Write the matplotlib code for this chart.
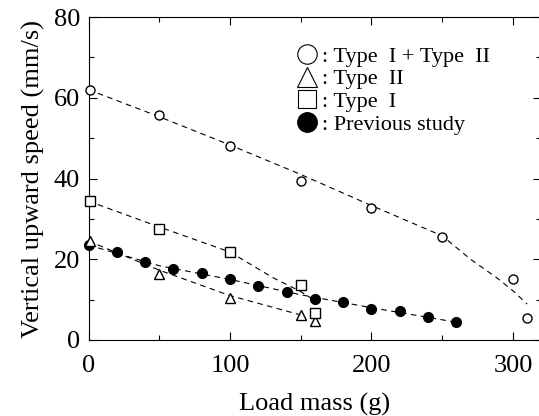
import matplotlib
matplotlib.use("Agg")
import matplotlib.pyplot as plt
from matplotlib.lines import Line2D
from matplotlib.ticker import MultipleLocator

plt.rcParams['font.family'] = ['Liberation Serif', 'DejaVu Serif']

# 测量数据 (load mass g, speed mm/s)
both_x = [1, 50, 100, 150, 200, 250, 300, 310]
both_y = [61.8, 55.7, 48.1, 39.4, 32.8, 25.4, 15.1, 5.4]
both_fit_x = [0, 50, 100, 150, 200, 250, 270, 289, 300, 310]
both_fit_y = [62.0, 55.3, 48.3, 41.0, 33.3, 25.8, 20.0, 15.3, 12.2, 8.9]

type2_x = [1, 50, 100, 150, 160]
type2_y = [24.6, 16.3, 10.5, 6.2, 4.7]
type2_fit_x = [0, 50, 100, 150]
type2_fit_y = [24.5, 17.3, 11.0, 6.2]

type1_x = [1, 50, 100, 150, 160]
type1_y = [34.5, 27.4, 21.7, 13.6, 6.6]
type1_fit_x = [0, 50, 100, 130, 150, 160]
type1_fit_y = [34.4, 28.0, 21.8, 15.5, 12.0, 9.8]

prev_x = [0, 20, 40, 60, 80, 100, 120, 140, 160, 180, 200, 220, 240, 260]
prev_y = [23.5, 21.9, 19.2, 17.5, 16.7, 15.0, 13.4, 12.0, 10.1, 9.3, 7.8, 7.2, 5.6, 4.4]
prev_fit_x = [0, 50, 100, 150, 200, 260]
prev_fit_y = [23.5, 18.4, 15.0, 11.2, 8.0, 4.4]

legend_labels = [': Type  I + Type  II', ': Type  II', ': Type  I', ': Previous study']

fig = plt.figure(figsize=(5.39, 4.16), dpi=100)
ax = fig.add_axes([0.1642, 0.1827, 0.840, 0.7764])

dash = (0, (5, 4))
for fx, fy in [(both_fit_x, both_fit_y), (type2_fit_x, type2_fit_y),
               (type1_fit_x, type1_fit_y), (prev_fit_x, prev_fit_y)]:
    ax.plot(fx, fy, color='black', lw=0.8, linestyle=dash, zorder=2)

ax.plot(prev_x, prev_y, 'o', ms=7, mfc='black', mec='black', zorder=3, clip_on=False)
ax.plot(both_x, both_y, 'o', ms=6.5, mfc='white', mec='black', mew=1.0, zorder=4, clip_on=False)
ax.plot(type2_x, type2_y, '^', ms=7, mfc='white', mec='black', mew=1.0, zorder=4, clip_on=False)
ax.plot(type1_x, type1_y, 's', ms=6.5, mfc='white', mec='black', mew=1.0, zorder=4, clip_on=False)

ax.set_xlim(0, 320)
ax.set_ylim(0, 80)
ax.xaxis.set_major_locator(MultipleLocator(100))
ax.xaxis.set_minor_locator(MultipleLocator(50))
ax.yaxis.set_major_locator(MultipleLocator(20))
ax.yaxis.set_minor_locator(MultipleLocator(10))
ax.tick_params(which='both', direction='in', top=True, right=True, width=0.8, labelsize=19)
ax.tick_params(which='major', length=6)
ax.tick_params(which='minor', length=3.3)
ax.tick_params(axis='x', pad=11)
ax.tick_params(axis='y', pad=6)
for sp in ax.spines.values():
    sp.set_linewidth(0.8)

ax.set_xlabel('Load mass (g)', fontsize=19, labelpad=11)
ax.set_ylabel('Vertical upward speed (mm/s)', fontsize=19, labelpad=6)

handles = [
    Line2D([], [], marker='o', ls='none', ms=14, mfc='white', mec='black', mew=0.8),
    Line2D([], [], marker='^', ls='none', ms=14, mfc='white', mec='black', mew=0.8),
    Line2D([], [], marker='s', ls='none', ms=13, mfc='white', mec='black', mew=0.8),
    Line2D([], [], marker='o', ls='none', ms=14, mfc='black', mec='black'),
]
ax.legend(handles, legend_labels, loc='upper left', bbox_to_anchor=(0.451, 0.924),
          frameon=False, fontsize=16, handlelength=0.9, handletextpad=0.2,
          labelspacing=0.1, borderpad=0.2, borderaxespad=0)

fig.savefig('out.png', dpi=100)
